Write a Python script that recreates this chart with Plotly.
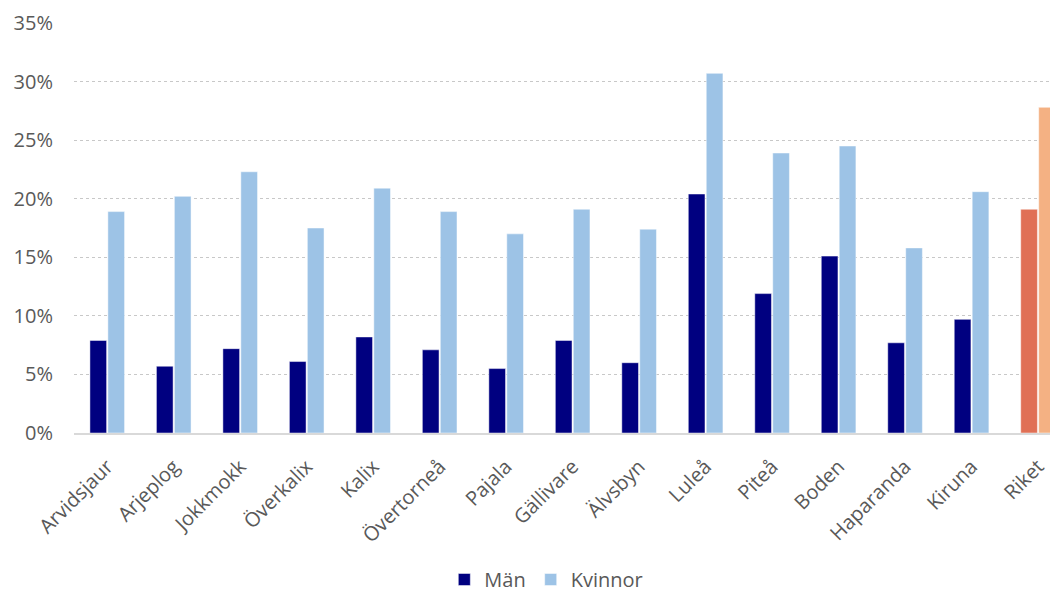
import plotly.graph_objects as go

categories = ["Arvidsjaur", "Arjeplog", "Jokkmokk", "Överkalix", "Kalix", "Övertorneå",
              "Pajala", "Gällivare", "Älvsbyn", "Luleå", "Piteå", "Boden",
              "Haparanda", "Kiruna", "Riket"]
man = [7.9, 5.7, 7.2, 6.1, 8.2, 7.1, 5.5, 7.9, 6.0, 20.4, 11.9, 15.1, 7.7, 9.7, 19.1]
kvinnor = [18.9, 20.2, 22.3, 17.5, 20.9, 18.9, 17.0, 19.1, 17.4, 30.7, 23.9, 24.5, 15.8, 20.6, 27.8]
y_ticks = [0, 5, 10, 15, 20, 25, 30, 35]

man_vals = [v / 100 for v in man]
kv_vals = [v / 100 for v in kvinnor]

man_colors = ["#000080"] * (len(categories) - 1) + ["#E07055"]
kv_colors = ["#9DC3E6"] * (len(categories) - 1) + ["#F4B183"]

font_family = "'Open Sans', sans-serif"
gray = "#595959"

fig = go.Figure()
fig.add_trace(go.Bar(x=categories, y=man_vals, name="Män",
                     marker=dict(color=man_colors, line=dict(color="rgba(255,255,255,0.6)", width=0.8))))
fig.add_trace(go.Bar(x=categories, y=kv_vals, name="Kvinnor",
                     marker=dict(color=kv_colors, line=dict(color="rgba(255,255,255,0.6)", width=0.8))))

# page body adds an 8px offset, so the figure is sized 8px smaller
fig.update_layout(
    width=1050, height=591,
    margin=dict(l=66, r=0, t=15, b=166, autoexpand=False),
    paper_bgcolor="white", plot_bgcolor="white",
    barmode="group", bargap=0.46, bargroupgap=0.07,
    font=dict(family=font_family, color=gray, size=20),
    showlegend=True,
    legend=dict(orientation="h", x=0.48, xanchor="center", y=0, yref="container",
                yanchor="bottom", font=dict(size=20, color=gray), traceorder="normal",
                itemwidth=30),
)
fig.update_xaxes(
    range=[-0.5, 14.3], tickangle=-45, showgrid=False, automargin=False,
    showline=True, linecolor="#D9D9D9", linewidth=2,
    tickfont=dict(size=20, color=gray), ticks="",
    ticklabelstandoff=12,
)
fig.update_yaxes(
    range=[0, 0.35], tickvals=[t / 100 for t in y_ticks],
    ticktext=[f"{t}%" for t in y_ticks], automargin=False,
    showgrid=True, gridcolor="#C8C8C8", griddash="dot", gridwidth=1,
    zeroline=False, showline=False, ticks="",
    ticklabelstandoff=20,
    tickfont=dict(size=20, color=gray),
)

fig.write_html("out.html")
